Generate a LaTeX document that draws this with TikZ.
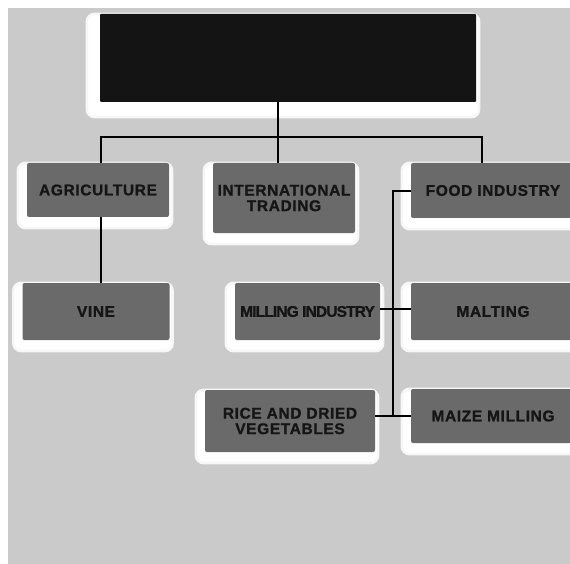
\documentclass[tikz,border=0pt]{standalone}
\usepackage{fontspec}
\newfontfamily\unitfont{Liberation Sans}[LetterSpace=4, BoldFeatures={FakeBold=1.2}]
\usetikzlibrary{backgrounds}

\definecolor{paper}{HTML}{CACACA}
\definecolor{unitgray}{HTML}{6A6A6A}
\definecolor{inkblack}{HTML}{151515}

\tikzset{
  unit/.style={fill=unitgray, rounded corners=2pt, inner sep=0pt, align=center,
    text=inkblack, font=\unitfont\bfseries\fontsize{15.5}{15.5}\selectfont},
  headbox/.style={fill=black!92, rounded corners=1pt, inner sep=0pt},
  glow/.style={fill=white, draw=white!85!paper, line width=2.5pt, rounded corners=8pt},
  link/.style={draw=black, line width=1.6pt}
}

\begin{document}
\begin{tikzpicture}[x=1pt, y=-1pt]
    \useasboundingbox (0,0) rectangle (570,564);

    % Background sheet
    \begin{scope}[on background layer]
        \fill[white] (0,0) rectangle (570,564);
        \fill[paper] (8,8) rectangle (570,564);
    \end{scope}

    % Head box (empty, black)
    \node[headbox, minimum width=376pt, minimum height=88pt] (root) at (288,58) {};

    % First row
    \node[unit, minimum width=142pt, minimum height=54pt] (agri) at (98,190) {AGRICULTURE};
    \node[unit, minimum width=142pt, minimum height=70pt] (intl) at (284,198) {INTERNATIONAL\\TRADING};
    \node[unit, minimum width=164pt, minimum height=55pt] (food) at (493,190.5) {FOOD INDUSTRY};

    % Second row
    \node[unit, minimum width=147pt, minimum height=57pt] (vine) at (96,311.5) {VINE};
    \node[unit, minimum width=145pt, minimum height=57pt] (mill) at (307.5,311.5)
        {\addfontfeature{LetterSpace=-5.5}MILLING INDUSTRY};
    \node[unit, minimum width=164pt, minimum height=57pt] (malt) at (493,311.5) {MALTING};

    % Third row
    \node[unit, minimum width=170pt, minimum height=62pt] (rice) at (290,421) {RICE AND DRIED\\VEGETABLES};
    \node[unit, minimum width=164pt, minimum height=54pt] (maize) at (493,416) {MAIZE MILLING};

    % White halos behind the boxes
    \begin{scope}[on background layer]
        \fill[glow] ([xshift=-13pt]root.north west) rectangle ([xshift=3pt,yshift=-15pt]root.south east);
        \foreach \n in {agri,intl,food,vine,mill,malt,rice,maize}
            \fill[glow] ([xshift=-9pt]\n.north west) rectangle ([xshift=3pt,yshift=-11pt]\n.south east);
    \end{scope}

    % Junctions
    \coordinate (bus) at (278,137);
    \coordinate (busL) at (101,137);
    \coordinate (busR) at (482,137);
    \coordinate (spine) at (393,191);

    % Connectors
    \draw[link] (root.south -| bus) -- (bus);
    \draw[link] (agri.north -| busL) -- (busL) -- (busR) -- (food.north -| busR);
    \draw[link] (bus) -- (intl.north -| bus);
    \draw[link] (agri.south -| busL) -- (vine.north -| busL);
    \draw[link] (food.west |- spine) -- (spine) -- (spine |- maize.west);
    \draw[link] (mill.east |- 0,309) -- (malt.west |- 0,309);
    \draw[link] (rice.east |- maize.west) -- (maize.west);
\end{tikzpicture}
\end{document}
